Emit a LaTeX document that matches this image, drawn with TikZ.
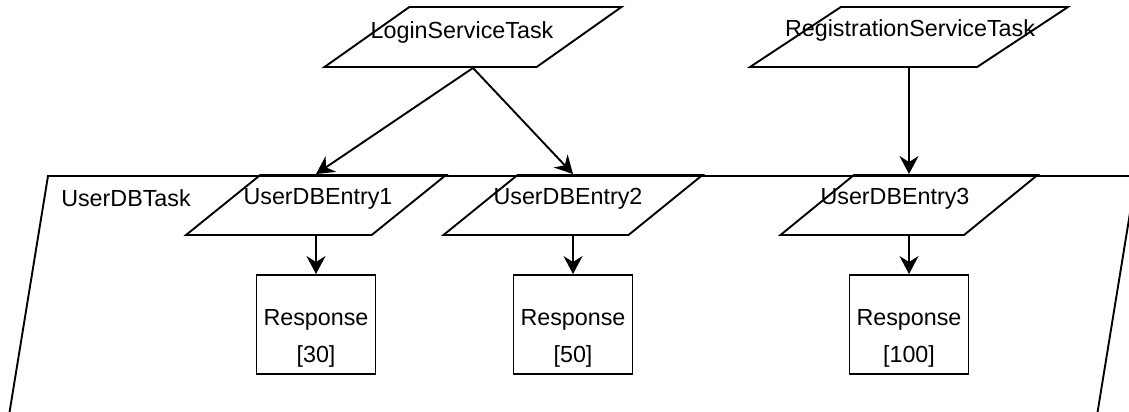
\documentclass[tikz,border=0pt]{standalone}
\usepackage{fontspec}
\setmainfont{Liberation Sans}
\usetikzlibrary{shapes.geometric, arrows.meta}

\tikzset{
  slantbox/.style={trapezium, draw, trapezium left angle=56.3, trapezium right angle=123.7,
    trapezium stretches=true, minimum height=60, inner sep=2pt},
  respbox/.style={draw, minimum width=119, minimum height=99, inner sep=0pt},
  txt/.style={font=\fontsize{23.3}{37}\selectfont, align=center, inner sep=0pt},
  flow/.style={-{Stealth[length=18pt, width=19pt, inset=6pt]}},
}

\begin{document}
\begin{tikzpicture}[x=1pt, y=-1pt, line width=1.9pt]
      \path[use as bounding box] (0,0) rectangle (1129,412);
      \begin{scope}
        \clip (0,0) rectangle (1129,412);
        \draw (48,176) -- (1136,176) -- (1093,440) -- (5,440) -- cycle;
      \end{scope}
      \node[txt] (task) at (126,198) {UserDBTask};
      \node[slantbox, minimum width=297, label={[txt, xshift=-11, yshift=5]center:LoginServiceTask}] (login) at (473,37) {};
      \node[slantbox, minimum width=318, label={[txt, xshift=1, yshift=7]center:RegistrationServiceTask}] (reg) at (909,37) {};
      \node[slantbox, minimum width=260, label={[txt, xshift=2, yshift=6]center:UserDBEntry1}] (e1) at (316,205) {};
      \node[slantbox, minimum width=259, label={[txt, xshift=-5, yshift=6]center:UserDBEntry2}] (e2) at (573,205) {};
      \node[slantbox, minimum width=257, label={[txt, xshift=-14, yshift=6]center:UserDBEntry3}] (e3) at (909,205) {};
      \node[respbox, label={[txt, yshift=-14]center:Response\\{}[30]}] (r1) at (316,324.5) {};
      \node[respbox, label={[txt, yshift=-14]center:Response\\{}[50]}] (r2) at (573,324.5) {};
      \node[respbox, label={[txt, yshift=-14]center:Response\\{}[100]}] (r3) at (909,324.5) {};
      \draw[flow] (login.south) -- (e1.north);
      \draw[flow] (login.south) -- (e2.north);
      \draw[flow] (reg.south) -- (e3.north);
      \draw[flow] (e1.south) -- (r1.north);
      \draw[flow] (e2.south) -- (r2.north);
      \draw[flow] (e3.south) -- (r3.north);
    \end{tikzpicture}
\end{document}
